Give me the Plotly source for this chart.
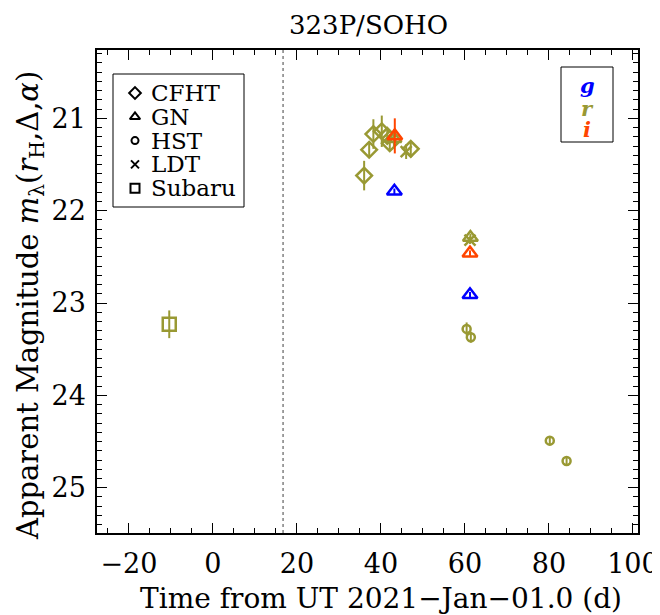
import plotly.graph_objects as go

# ---------------- data ----------------
# CFHT (r)
cfht_r_t = [36.0, 37.2, 38.2, 40.2, 41.5, 42.1, 47.1]
cfht_r_m = [21.62, 21.34, 21.17, 21.14, 21.19, 21.27, 21.33]
cfht_r_e = [0.16, 0.07, 0.16, 0.17, 0.08, 0.07, 0.08]
# Gemini North
gn_r_t = [43.1, 61.3]
gn_r_m = [21.22, 22.29]
gn_r_e = [0.10, 0.04]
gn_i_t = [43.3, 61.2]
gn_i_m = [21.19, 22.46]
gn_i_e = [0.19, 0.03]
gn_g_t = [43.2, 61.2]
gn_g_m = [21.79, 22.91]
gn_g_e = [0.03, 0.03]
# HST (r)
hst_r_t = [60.4, 61.4, 80.2, 84.2]
hst_r_m = [23.28, 23.37, 24.49, 24.71]
hst_r_e = [0.07, 0.06, 0.05, 0.05]
# LDT (r)
ldt_r_t = [46.0, 61.2]
ldt_r_m = [21.36, 22.32]
ldt_r_e = [0.08, 0.04]
# Subaru (r)
subaru_r_t = [-10.4]
subaru_r_m = [23.23]
subaru_r_e = [0.15]

perihelion_t = 16.7
instruments = ["CFHT", "GN", "HST", "LDT", "Subaru"]
filters = ["g", "r", "i"]

# ---------------- styles / layout ----------------
C_G = "#0000ff"
C_R = "#999933"
C_I = "#ff4500"
FONT = "DejaVu Serif"
OFF = 8                      # default page body margin
W, H = 660 - OFF, 615 - OFF
PL, PR, PT, PB = 97, 638, 50, 533   # plot frame in page pixels


def px(x):
    return (x - PL) / (PR - PL)


def py(y):
    return 1 - (y - PT) / (PB - PT)


sym = {"CFHT": "diamond-open", "GN": "triangle-up-open", "HST": "circle-open",
       "LDT": "x-thin", "Subaru": "square-open"}
size = {"CFHT": 12, "GN": 13, "HST": 8, "LDT": 11, "Subaru": 13}
key_size = {"CFHT": 9, "GN": 9, "HST": 7, "LDT": 8, "Subaru": 9}

fig = go.Figure()


def add(t, m, e, inst, color):
    fig.add_trace(go.Scatter(
        x=t, y=m, mode="markers", showlegend=False,
        marker=dict(symbol=sym[inst], size=size[inst], color=color,
                    line=dict(width=2.5, color=color)),
        error_y=dict(type="data", array=e, color=color, thickness=2, width=0),
    ))


add(subaru_r_t, subaru_r_m, subaru_r_e, "Subaru", C_R)
add(cfht_r_t, cfht_r_m, cfht_r_e, "CFHT", C_R)
add(hst_r_t, hst_r_m, hst_r_e, "HST", C_R)
add(ldt_r_t, ldt_r_m, ldt_r_e, "LDT", C_R)
add(gn_r_t, gn_r_m, gn_r_e, "GN", C_R)
add(gn_i_t, gn_i_m, gn_i_e, "GN", C_I)
add(gn_g_t, gn_g_m, gn_g_e, "GN", C_G)

fig.add_vline(x=perihelion_t, line=dict(color="gray", width=1.5, dash="dot"))

# ---- instrument key box ----
LEG_BOX = (113, 74, 244, 207)
LEG_SYM_X, LEG_TXT_X = 135, 149
LEG_ROW0, LEG_DY = 93, 23.8
fig.add_shape(type="rect", xref="paper", yref="paper",
              x0=px(LEG_BOX[0]), x1=px(LEG_BOX[2]), y0=py(LEG_BOX[3]), y1=py(LEG_BOX[1]),
              line=dict(color="black", width=1), fillcolor="white", layer="below")
for k, inst in enumerate(instruments):
    yy = LEG_ROW0 + k * LEG_DY
    fig.add_trace(go.Scatter(
        x=[LEG_SYM_X], y=[yy], xaxis="x2", yaxis="y2", mode="markers", showlegend=False,
        hoverinfo="skip",
        marker=dict(symbol=sym[inst], size=key_size[inst], color="black",
                    line=dict(width=2, color="black")),
    ))
    fig.add_annotation(xref="paper", yref="paper", x=px(LEG_TXT_X), y=py(yy),
                       xanchor="left", yanchor="middle", text=inst, showarrow=False,
                       font=dict(family=FONT, size=23, color="black"))

# ---- filter key box ----
FLT_BOX = (561, 67, 613, 142)
fcol = {"g": C_G, "r": C_R, "i": C_I}
flt_y = {"g": 85, "r": 108, "i": 130}
fig.add_shape(type="rect", xref="paper", yref="paper",
              x0=px(FLT_BOX[0]), x1=px(FLT_BOX[2]), y0=py(FLT_BOX[3]), y1=py(FLT_BOX[1]),
              line=dict(color="black", width=1), fillcolor="white", layer="below")
for f in filters:
    fig.add_annotation(xref="paper", yref="paper", x=px(587), y=py(flt_y[f]),
                       xanchor="center", yanchor="middle", showarrow=False,
                       text=f"<b><i>{f}</i></b>",
                       font=dict(family=FONT, size=21, color=fcol[f]))

# ---- axis titles & title ----
fig.add_annotation(xref="paper", yref="paper", x=px(381), y=py(598),
                   xanchor="center", yanchor="middle", showarrow=False,
                   text="Time from UT 2021\u2212Jan\u221201.0 (d)",
                   font=dict(family=FONT, size=28, color="black"))
fig.add_annotation(xref="paper", yref="paper", x=px(30), y=py(306),
                   xanchor="center", yanchor="middle", showarrow=False, textangle=-90,
                   text="Apparent Magnitude <i>m</i><sub>\u03bb</sub>(<i>r</i><sub>H</sub>,\u0394,<i>\u03b1</i>)",
                   font=dict(family=FONT, size=29, color="black"))
fig.add_annotation(xref="paper", yref="paper", x=px(368), y=py(25),
                   xanchor="center", yanchor="middle", showarrow=False,
                   text="323P/SOHO", font=dict(family=FONT, size=26, color="black"))

axis_common = dict(showgrid=False, zeroline=False, showline=True, linecolor="black",
                   linewidth=1.5, mirror="ticks", ticks="inside", tickcolor="black",
                   tickwidth=1.2, automargin=False,
                   tickfont=dict(family=FONT, size=27, color="black"))

fig.update_xaxes(range=[-27.6, 101.2], tick0=0, dtick=20, ticklen=10,
                 ticklabelstandoff=6,
                 minor=dict(dtick=5, ticks="inside", ticklen=5, tickcolor="black", tickwidth=1.2),
                 **axis_common)
fig.update_yaxes(range=[25.49, 20.26], tick0=21, dtick=1, ticklen=10,
                 ticklabelstandoff=4,
                 minor=dict(dtick=0.1, ticks="inside", ticklen=5, tickcolor="black", tickwidth=1.2),
                 **axis_common)

fig.update_layout(
    width=W, height=H,
    margin=dict(l=PL - OFF, r=660 - PR, t=PT - OFF, b=615 - PB, autoexpand=False),
    paper_bgcolor="white", plot_bgcolor="white",
    xaxis2=dict(overlaying="x", range=[PL, PR], visible=False, fixedrange=True),
    yaxis2=dict(overlaying="y", range=[PB, PT], visible=False, fixedrange=True),
    showlegend=False,
)

fig.write_html("out.html")
